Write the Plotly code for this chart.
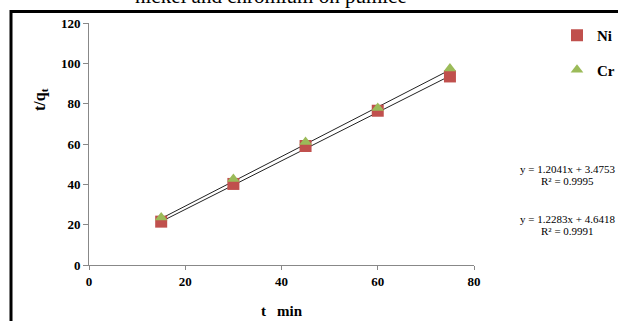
import plotly.graph_objects as go

time_min = [15, 30, 45, 60, 75]
ni_values = [21.5, 40.2, 59.0, 76.5, 93.5]
cr_values = [23.5, 42.6, 61.0, 77.8, 97.5]
fit_ni = (1.2041, 3.4753, 0.9995)
fit_cr = (1.2283, 4.6418, 0.9991)
x_ticks = [0, 20, 40, 60, 80]
y_ticks = [0, 20, 40, 60, 80, 100, 120]

W, H = 618, 321
L, R, T, B = 89, 144, 23, 56
pw, ph = W - L - R, H - T - B

def px(xp):
    return (xp - L) / pw

def py(yp):
    return (H - B - yp) / ph

fig = go.Figure()
for (m, c, _r2) in (fit_ni, fit_cr):
    xs = [time_min[0], time_min[-1]]
    fig.add_trace(go.Scatter(x=xs, y=[m * v + c for v in xs], mode="lines",
                             line=dict(color="#222222", width=1), showlegend=False,
                             hoverinfo="skip"))
fig.add_trace(go.Scatter(x=time_min, y=ni_values, mode="markers", name="Ni",
                         legendgroup="ni",
                         marker=dict(symbol="square", size=12, color="#C0504D")))
fig.add_trace(go.Scatter(x=time_min, y=cr_values, mode="markers", name="Cr",
                         legendgroup="cr",
                         marker=dict(symbol="triangle-up", size=11, color="#9BBB59")))

fig.update_layout(
    width=W, height=H, margin=dict(l=L, r=R, t=T, b=B, autoexpand=False),
    plot_bgcolor="white", paper_bgcolor="white",
    showlegend=True,
    legend=dict(x=px(557), y=py(19), xanchor="left", yanchor="top",
                font=dict(family="Liberation Serif", size=15, color="black", weight="bold"),
                tracegroupgap=12, itemwidth=30, bgcolor="rgba(0,0,0,0)",
                traceorder="grouped"),
    xaxis=dict(range=[0, 80], tickvals=x_ticks, showgrid=False, zeroline=False,
               showline=True, linecolor="#888888", linewidth=1,
               ticks="outside", ticklen=4, tickcolor="#888888",
               tickfont=dict(family="Liberation Serif", size=13, color="black", weight="bold"),
               title=dict(text="t   min", standoff=17,
                          font=dict(family="Liberation Serif", size=15, color="black", weight="bold"))),
    yaxis=dict(range=[0, 120], tickvals=y_ticks, showgrid=False, zeroline=False,
               showline=True, linecolor="#888888", linewidth=1,
               ticks="outside", ticklen=5, tickcolor="#888888",
               tickfont=dict(family="Liberation Serif", size=13, color="black", weight="bold")),
)

# y-axis title (placed above the axis middle, as in the reference)
fig.add_annotation(text="t/q<sub>t</sub>", xref="paper", yref="paper",
                   x=px(40), y=py(100), xanchor="center", yanchor="middle", textangle=-90,
                   showarrow=False,
                   font=dict(family="Liberation Serif", size=16, color="black", weight="bold"))

# outer frame
fig.add_shape(type="rect", xref="paper", yref="paper",
              x0=px(11), x1=px(640), y0=py(340), y1=py(11.5),
              line=dict(color="black", width=3), fillcolor="rgba(0,0,0,0)", layer="above")

# title (cut off at top, as in the reference)
fig.add_annotation(text="nickel and chromium on pumice", xref="paper", yref="paper",
                   x=px(271), y=py(10), xanchor="center", yanchor="bottom",
                   showarrow=False, font=dict(family="Liberation Serif", size=21, color="black"))

# equations
eq_font = dict(family="Liberation Serif", size=11, color="black")
for (m, c, r2), yp in ((fit_ni, 169), (fit_cr, 219)):
    fig.add_annotation(text=f"y = {m:.4f}x + {c:.4f}", xref="paper", yref="paper",
                       x=px(567), y=py(yp), xanchor="center", yanchor="middle",
                       showarrow=False, font=eq_font)
    fig.add_annotation(text=f"R² = {r2:.4f}", xref="paper", yref="paper",
                       x=px(567), y=py(yp + 12), xanchor="center", yanchor="middle",
                       showarrow=False, font=eq_font)

fig.write_html("out.html", config={"displayModeBar": False},
               post_script="document.body.style.margin='0px';")
